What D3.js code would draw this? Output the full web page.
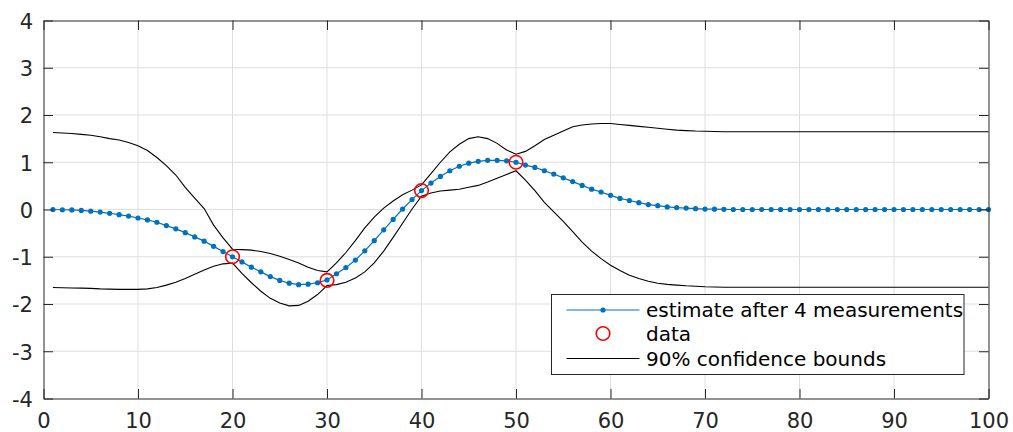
<!DOCTYPE html>
<html>
<head>
<meta charset="utf-8">
<script src="https://cdn.jsdelivr.net/npm/d3@7"></script>
<style>
  body { margin: 0; background: #fff; }
  svg { display: block; }
</style>
</head>
<body>
<svg id="chart"></svg>
<script>
// sample grid of the estimate (1..100)
const sampleX = d3.range(1, 101);

const estimate = [
  0.00, -0.005, -0.01, -0.02, -0.035, -0.055, -0.08, -0.11, -0.14, -0.18,
  -0.22, -0.27, -0.34, -0.41, -0.49, -0.58, -0.67, -0.78, -0.89, -1.00,
  -1.11, -1.22, -1.32, -1.42, -1.50, -1.56, -1.59, -1.58, -1.55, -1.49,
  -1.36, -1.23, -1.07, -0.875, -0.66, -0.43, -0.21, 0.01, 0.21, 0.40,
  0.56, 0.70, 0.82, 0.915, 0.98, 1.02, 1.04, 1.04, 1.03, 1.00,
  0.94, 0.89, 0.82, 0.75, 0.67, 0.59, 0.51, 0.43, 0.37, 0.30,
  0.235, 0.19, 0.145, 0.105, 0.08, 0.055, 0.04, 0.03, 0.018, 0.01,
  0.006, 0.003, 0, 0, 0, 0, 0, 0, 0, 0,
  0, 0, 0, 0, 0, 0, 0, 0, 0, 0,
  0, 0, 0, 0, 0, 0, 0, 0, 0, 0
];

const upperBound = [
  1.63, 1.62, 1.61, 1.59, 1.57, 1.54, 1.50, 1.47, 1.42, 1.35,
  1.25, 1.10, 0.93, 0.73, 0.47, 0.24, 0.02, -0.33, -0.60, -0.84,
  -0.85, -0.86, -0.89, -0.93, -0.99, -1.06, -1.13, -1.22, -1.29, -1.32,
  -1.13, -0.91, -0.66, -0.39, -0.16, 0.03, 0.18, 0.31, 0.41, 0.52,
  0.76, 1.00, 1.22, 1.38, 1.50, 1.54, 1.50, 1.40, 1.26, 1.17,
  1.23, 1.35, 1.48, 1.57, 1.66, 1.75, 1.79, 1.81, 1.82, 1.82,
  1.80, 1.78, 1.76, 1.74, 1.72, 1.70, 1.68, 1.67, 1.66, 1.655,
  1.65, 1.645, 1.645, 1.645, 1.645, 1.645, 1.645, 1.645, 1.645, 1.645,
  1.645, 1.645, 1.645, 1.645, 1.645, 1.645, 1.645, 1.645, 1.645, 1.645,
  1.645, 1.645, 1.645, 1.645, 1.645, 1.645, 1.645, 1.645, 1.645, 1.645
];

const lowerBound = [
  -1.65, -1.655, -1.66, -1.665, -1.67, -1.68, -1.685, -1.69, -1.69, -1.69,
  -1.68, -1.65, -1.60, -1.54, -1.46, -1.37, -1.28, -1.20, -1.15, -1.135,
  -1.35, -1.55, -1.73, -1.88, -1.98, -2.04, -2.03, -1.94, -1.80, -1.61,
  -1.59, -1.54, -1.45, -1.32, -1.13, -0.88, -0.59, -0.29, 0.01, 0.28,
  0.35, 0.39, 0.41, 0.43, 0.47, 0.51, 0.58, 0.66, 0.74, 0.82,
  0.62, 0.40, 0.15, -0.05, -0.25, -0.47, -0.69, -0.88, -1.04, -1.18,
  -1.29, -1.39, -1.46, -1.52, -1.56, -1.585, -1.60, -1.615, -1.625, -1.635,
  -1.64, -1.645, -1.645, -1.645, -1.645, -1.645, -1.645, -1.645, -1.645, -1.645,
  -1.645, -1.645, -1.645, -1.645, -1.645, -1.645, -1.645, -1.645, -1.645, -1.645,
  -1.645, -1.645, -1.645, -1.645, -1.645, -1.645, -1.645, -1.645, -1.645, -1.645
];

const dataX = [20, 30, 40, 50];
const dataY = [-1, -1.5, 0.4, 1];

const xTicks = [0, 10, 20, 30, 40, 50, 60, 70, 80, 90, 100];
const yTicks = [-4, -3, -2, -1, 0, 1, 2, 3, 4];

const legendLabels = ['estimate after 4 measurements', 'data', '90% confidence bounds'];

const width = 1013;
const height = 432;
const plot = { left: 43.5, right: 988.5, top: 20.5, bottom: 398.5 };
const blue = '#0072bd';
const axisColor = '#262626';
const fontFamily = '"DejaVu Sans", sans-serif';

const svg = d3.select('#chart').attr('width', width).attr('height', height);

const x = d3.scaleLinear().domain([0, 100]).range([plot.left, plot.right]);
const y = d3.scaleLinear().domain([-4, 4]).range([plot.bottom, plot.top]);

// Grid
const grid = svg.append('g').attr('stroke', '#dfdfdf').attr('stroke-width', 1);
grid.selectAll('line.gx')
  .data(xTicks.slice(1, -1))
  .join('line')
  .attr('x1', d => x(d)).attr('x2', d => x(d))
  .attr('y1', plot.top).attr('y2', plot.bottom);
grid.selectAll('line.gy')
  .data(yTicks.slice(1, -1))
  .join('line')
  .attr('y1', d => y(d)).attr('y2', d => y(d))
  .attr('x1', plot.left).attr('x2', plot.right);

// Confidence bounds
const seriesLine = d3.line()
  .x((d, i) => x(sampleX[i]))
  .y(d => y(d));

[upperBound, lowerBound].forEach(b => {
  svg.append('path')
    .attr('d', seriesLine(b))
    .attr('fill', 'none')
    .attr('stroke', '#000')
    .attr('stroke-width', 1.1);
});

// Estimate line and dots
svg.append('path')
  .attr('d', seriesLine(estimate))
  .attr('fill', 'none')
  .attr('stroke', blue)
  .attr('stroke-width', 1.2);

svg.append('g')
  .selectAll('circle')
  .data(estimate)
  .join('circle')
  .attr('cx', (d, i) => x(sampleX[i]))
  .attr('cy', d => y(d))
  .attr('r', 2.6)
  .attr('fill', blue);

// Data points
svg.append('g')
  .selectAll('circle')
  .data(dataX)
  .join('circle')
  .attr('cx', d => x(d))
  .attr('cy', (d, i) => y(dataY[i]))
  .attr('r', 6.8)
  .attr('fill', 'none')
  .attr('stroke', '#ff0000')
  .attr('stroke-width', 1.6);

// Axes (ticks inside, box on all four sides)
function styleAxis(g) {
  g.attr('font-family', fontFamily).attr('font-size', 21);
  g.selectAll('.domain').attr('stroke', axisColor);
  g.selectAll('.tick line').attr('stroke', axisColor);
  g.selectAll('.tick text').attr('fill', axisColor);
}

const plainNum = d => String(d); // hyphen minus like the original

svg.append('g')
  .attr('transform', `translate(0,${plot.bottom})`)
  .call(d3.axisBottom(x).tickValues(xTicks).tickFormat(plainNum).tickSize(-9.5).tickSizeOuter(0).tickPadding(14.5))
  .call(styleAxis);

svg.append('g')
  .attr('transform', `translate(0,${plot.top})`)
  .call(d3.axisTop(x).tickValues(xTicks).tickSize(-9.5).tickSizeOuter(0).tickFormat(() => ''))
  .call(styleAxis);

const leftAxis = svg.append('g')
  .attr('transform', `translate(${plot.left},0)`)
  .call(d3.axisLeft(y).tickValues(yTicks).tickFormat(plainNum).tickSize(-9.5).tickSizeOuter(0).tickPadding(10.5))
  .call(styleAxis);
leftAxis.selectAll('.tick text').attr('dy', '0.38em');

svg.append('g')
  .attr('transform', `translate(${plot.right},0)`)
  .call(d3.axisRight(y).tickValues(yTicks).tickSize(-9.5).tickSizeOuter(0).tickFormat(() => ''))
  .call(styleAxis);

// Legend
const legend = svg.append('g').attr('transform', 'translate(551.5,294.5)');
legend.append('rect')
  .attr('width', 412.5)
  .attr('height', 80)
  .attr('fill', '#fff')
  .attr('stroke', axisColor)
  .attr('stroke-width', 1);

const rowY = [15.5, 39, 64];
const sampleX0 = 15, sampleX1 = 88, textX = 94.5;

legend.append('line')
  .attr('x1', sampleX0).attr('x2', sampleX1)
  .attr('y1', rowY[0]).attr('y2', rowY[0])
  .attr('stroke', blue).attr('stroke-width', 1.2);
legend.append('circle')
  .attr('cx', (sampleX0 + sampleX1) / 2).attr('cy', rowY[0])
  .attr('r', 2.6).attr('fill', blue);

legend.append('circle')
  .attr('cx', (sampleX0 + sampleX1) / 2).attr('cy', rowY[1])
  .attr('r', 6.8).attr('fill', 'none')
  .attr('stroke', '#ff0000').attr('stroke-width', 1.6);

legend.append('line')
  .attr('x1', sampleX0).attr('x2', sampleX1)
  .attr('y1', rowY[2]).attr('y2', rowY[2])
  .attr('stroke', '#000').attr('stroke-width', 1.1);

legend.selectAll('text')
  .data(legendLabels)
  .join('text')
  .attr('x', textX)
  .attr('y', (d, i) => rowY[i])
  .attr('dy', '0.36em')
  .attr('font-family', fontFamily)
  .attr('font-size', 20)
  .attr('fill', '#000')
  .text(d => d);
</script>
</body>
</html>
